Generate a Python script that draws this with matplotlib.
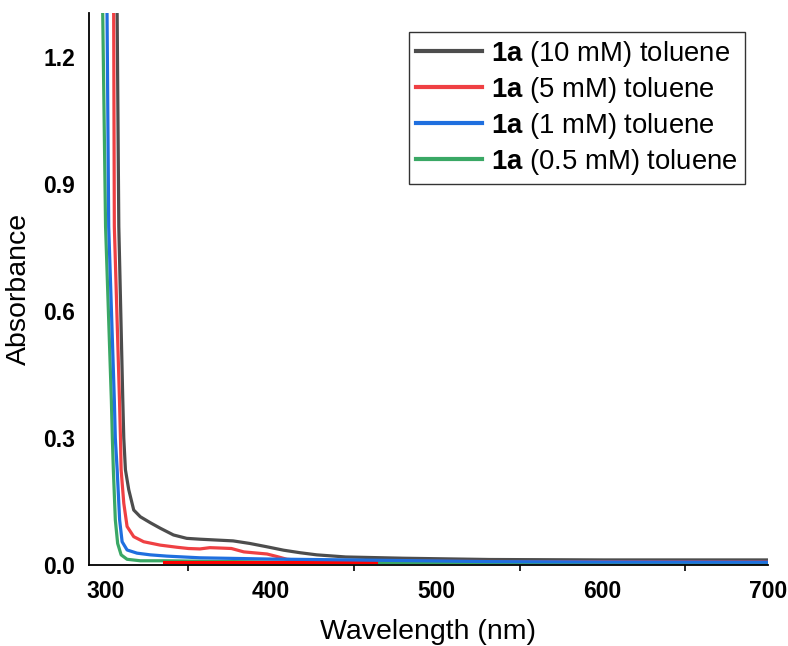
import matplotlib
matplotlib.use("Agg")
import matplotlib.pyplot as plt

plt.rcParams['font.family'] = ['Liberation Sans', 'DejaVu Sans']
plt.rcParams['mathtext.fontset'] = 'custom'
plt.rcParams['mathtext.bf'] = 'Liberation Sans:bold'
plt.rcParams['mathtext.rm'] = 'Liberation Sans'

# spectra (wavelength nm, absorbance)
wl_10 = [305.5, 307.0, 308.0, 310.4, 311.0, 312.0, 314.0, 317.0, 321.0, 327.0, 333.0,
         341.0, 349.0, 357.0, 367.0, 377.0, 387.0, 397.5, 407.5, 417.5, 427.5, 445.0,
         480.0, 532.0, 600.0, 700.0]
abs_10 = [1.50, 1.30, 0.80, 0.39, 0.30, 0.225, 0.178, 0.130, 0.114, 0.100, 0.087,
          0.071, 0.063, 0.061, 0.059, 0.057, 0.051, 0.043, 0.035, 0.029, 0.024, 0.019,
          0.016, 0.013, 0.012, 0.012]

wl_5 = [303.5, 304.9, 305.3, 308.4, 309.0, 309.4, 311.0, 313.0, 317.0, 323.0, 333.0,
        343.0, 350.0, 357.0, 363.0, 370.0, 376.0, 383.5, 397.5, 403.5, 409.5, 417.5,
        450.0, 550.0, 700.0]
abs_5 = [1.50, 1.30, 0.80, 0.39, 0.30, 0.225, 0.146, 0.091, 0.067, 0.055, 0.047,
         0.042, 0.039, 0.038, 0.041, 0.040, 0.039, 0.031, 0.026, 0.020, 0.0135, 0.011,
         0.009, 0.008, 0.007]

wl_1 = [300.0, 300.9, 301.9, 305.3, 305.9, 307.0, 308.5, 310.0, 313.0, 319.0, 327.0,
        337.0, 357.0, 400.0, 448.0, 532.0, 600.0, 700.0]
abs_1 = [1.50, 1.30, 0.80, 0.39, 0.30, 0.225, 0.1065, 0.055, 0.0355, 0.028, 0.024,
         0.021, 0.017, 0.014, 0.012, 0.008, 0.007, 0.0065]

wl_05 = [297.3, 298.3, 300.0, 303.5, 304.1, 304.7, 305.9, 307.3, 309.4, 313.0, 321.0,
         335.0, 400.0, 460.0, 550.0, 700.0]
abs_05 = [1.50, 1.30, 0.80, 0.39, 0.30, 0.225, 0.1065, 0.051, 0.024, 0.0135, 0.010,
          0.010, 0.007, 0.006, 0.005, 0.004]

# red baseline segment at the bottom
wl_bar = [335.0, 463.0]
abs_bar = [0.0078, 0.0078]

xticks = [300, 400, 500, 600, 700]
xminor = [350, 450, 550, 650]
yticks = [0.0, 0.3, 0.6, 0.9, 1.2]

labels = [r'$\mathbf{1a}$ (10 mM) toluene', r'$\mathbf{1a}$ (5 mM) toluene',
          r'$\mathbf{1a}$ (1 mM) toluene', r'$\mathbf{1a}$ (0.5 mM) toluene']
colors = ['#4d4d4d', '#ef4043', '#1f6fdf', '#3aa865']

fig = plt.figure(figsize=(7.88, 6.46), dpi=100)
ax = fig.add_axes([89/788, 1-565/646, (768-89)/788, (565-13)/646])

ax.plot(wl_10, abs_10, color=colors[0], lw=2.3, label=labels[0])
ax.plot(wl_5, abs_5, color=colors[1], lw=2.3, label=labels[1])
ax.plot(wl_05, abs_05, color=colors[3], lw=2.3, label=labels[3], zorder=2.1)
ax.plot(wl_bar, abs_bar, color='#ff0000', lw=2.2, zorder=2.2)
ax.plot(wl_1, abs_1, color=colors[2], lw=2.3, label=labels[2], zorder=2.3)

ax.set_xlim(290, 700)
ax.set_ylim(0, 1.305)
ax.set_xticks(xticks)
ax.set_xticks(xminor, minor=True)
ax.set_yticks(yticks)
ax.set_xticklabels([str(v) for v in xticks], fontweight='bold')
ax.set_yticklabels(['%.1f' % v for v in yticks], fontweight='bold')
ax.tick_params(axis='x', which='major', length=0, pad=11, labelsize=16.5)
ax.tick_params(axis='x', which='minor', length=4, width=1.2, direction='out')
ax.tick_params(axis='y', which='major', length=0, pad=10, labelsize=16.5)

for s in ['top', 'right']:
    ax.spines[s].set_visible(False)
for s in ['left', 'bottom']:
    ax.spines[s].set_linewidth(1.3)

ax.set_xlabel('Wavelength (nm)', fontsize=20.5, labelpad=11)
ax.set_ylabel('Absorbance', fontsize=20.5, labelpad=8)

h, l = ax.get_legend_handles_labels()
order = [0, 1, 3, 2]
leg = ax.legend([h[i] for i in order], [l[i] for i in order], loc='upper right',
                bbox_to_anchor=(745/788, 1-32/646), bbox_transform=fig.transFigure,
                borderaxespad=0, fontsize=19.8, frameon=True, fancybox=False,
                edgecolor='black', handlelength=2.4, handletextpad=0.33,
                labelspacing=0.22, borderpad=0.25)
leg.get_frame().set_linewidth(1.0)
for line in leg.get_lines():
    line.set_linewidth(3)

fig.savefig('out.png', dpi=100)
